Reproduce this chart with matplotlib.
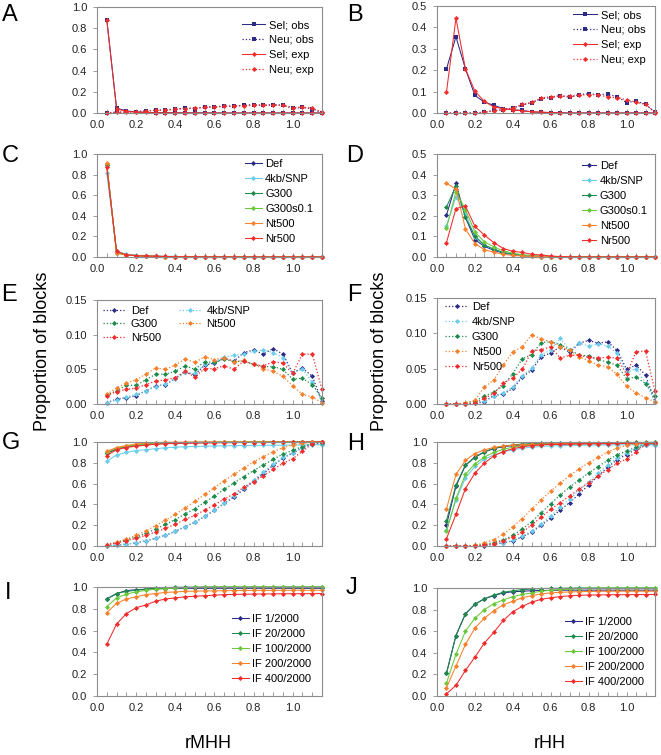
import numpy as np
import matplotlib
matplotlib.use('Agg')
import matplotlib.pyplot as plt

plt.rcParams['font.family'] = ['Liberation Sans', 'DejaVu Sans']

# bins of the distance statistic (shared by every panel)
rbin = [0.05, 0.1, 0.15, 0.2, 0.25, 0.3, 0.35, 0.4, 0.45, 0.5, 0.55, 0.6,
        0.65, 0.7, 0.75, 0.8, 0.85, 0.9, 0.95, 1.0, 1.05, 1.1, 1.15]

# A - rMHH, selected / neutral, observed / expected
a_sel_obs = [0.88, 0.045, 0.02, 0.01, 0.006, 0.004, 0.003, 0.002, 0.001, 0.001, 0.001, 0,
             0, 0, 0, 0, 0, 0, 0, 0, 0, 0, 0]
a_neu_obs = [0.002, 0.007, 0.009, 0.012, 0.019, 0.026, 0.028, 0.037, 0.046, 0.042, 0.056, 0.059,
             0.066, 0.062, 0.074, 0.078, 0.072, 0.080, 0.072, 0.045, 0.052, 0.040, 0.004]
a_sel_exp = [0.88, 0.04, 0.015, 0.008, 0.005, 0.003, 0.002, 0.001, 0.001, 0, 0, 0,
             0, 0, 0, 0, 0, 0, 0, 0, 0, 0, 0]
a_neu_exp = [0.003, 0.006, 0.010, 0.014, 0.020, 0.025, 0.030, 0.036, 0.042, 0.046, 0.052, 0.057,
             0.062, 0.066, 0.070, 0.073, 0.074, 0.075, 0.072, 0.050, 0.055, 0.045, 0.006]

# B - rHH
b_sel_obs = [0.206, 0.356, 0.206, 0.082, 0.051, 0.036, 0.020, 0.015, 0.012, 0.005, 0.003, 0.002,
             0.001, 0, 0, 0, 0, 0, 0, 0, 0, 0, 0]
b_neu_obs = [0, 0, 0, 0.001, 0.003, 0.012, 0.014, 0.022, 0.038, 0.048, 0.067, 0.072,
             0.081, 0.073, 0.086, 0.090, 0.086, 0.088, 0.076, 0.049, 0.055, 0.041, 0.003]
b_sel_exp = [0.098, 0.443, 0.206, 0.102, 0.054, 0.028, 0.020, 0.015, 0.010, 0.006, 0.004, 0.002,
             0.001, 0, 0, 0, 0, 0, 0, 0, 0, 0, 0]
b_neu_exp = [0, 0, 0, 0.001, 0.004, 0.010, 0.016, 0.024, 0.040, 0.050, 0.070, 0.076,
             0.080, 0.078, 0.083, 0.086, 0.085, 0.075, 0.072, 0.062, 0.050, 0.040, 0.004]

# C - rMHH, selected, scenarios
c_def = [0.890, 0.042, 0.022, 0.013, 0.009, 0.006, 0.004, 0.003, 0.002, 0.002, 0.001, 0.001,
         0.001, 0.001, 0, 0, 0, 0, 0, 0, 0, 0, 0]
c_4kb = [0.815, 0.060, 0.025, 0.018, 0.008, 0.010, 0.008, 0.006, 0.004, 0.003, 0.003, 0.002,
         0.002, 0.001, 0.001, 0.001, 0.001, 0.001, 0.001, 0.001, 0.001, 0.001, 0.001]
c_g300 = [0.895, 0.040, 0.022, 0.013, 0.010, 0.006, 0.004, 0.003, 0.002, 0.001, 0.001, 0.001,
          0.001, 0, 0, 0, 0, 0, 0, 0, 0, 0, 0]
c_g300s = [0.900, 0.040, 0.020, 0.012, 0.008, 0.006, 0.004, 0.003, 0.002, 0.001, 0.001, 0.001,
           0.001, 0, 0, 0, 0, 0, 0, 0, 0, 0, 0]
c_nt500 = [0.910, 0.037, 0.019, 0.014, 0.009, 0.005, 0.003, 0.001, 0.001, 0.001, 0, 0,
           0, 0, 0, 0, 0, 0, 0, 0, 0, 0, 0]
c_nr500 = [0.870, 0.055, 0.022, 0.013, 0.010, 0.008, 0.005, 0.003, 0.002, 0.002, 0.001, 0.001,
           0.001, 0, 0, 0, 0, 0, 0, 0, 0, 0, 0]

# D - rHH, selected, scenarios
d_def = [0.203, 0.357, 0.192, 0.084, 0.052, 0.032, 0.019, 0.012, 0.007, 0.004, 0.002, 0.001,
         0.001, 0, 0, 0, 0, 0, 0, 0, 0, 0, 0]
d_4kb = [0.151, 0.292, 0.211, 0.097, 0.058, 0.037, 0.022, 0.014, 0.008, 0.005, 0.003, 0.001,
         0, 0, 0, 0, 0, 0, 0, 0, 0, 0, 0]
d_g300 = [0.243, 0.344, 0.192, 0.102, 0.058, 0.038, 0.022, 0.013, 0.008, 0.004, 0.002, 0.001,
          0, 0, 0, 0, 0, 0, 0, 0, 0, 0, 0]
d_g300s = [0.141, 0.317, 0.230, 0.122, 0.073, 0.049, 0.030, 0.019, 0.011, 0.007, 0.004, 0.002,
           0.001, 0, 0, 0, 0, 0, 0, 0, 0, 0, 0]
d_nt500 = [0.357, 0.331, 0.136, 0.065, 0.036, 0.023, 0.013, 0.008, 0.005, 0.003, 0.002, 0.001,
           0, 0, 0, 0, 0, 0, 0, 0, 0, 0, 0]
d_nr500 = [0.070, 0.235, 0.247, 0.149, 0.106, 0.070, 0.041, 0.028, 0.022, 0.013, 0.010, 0.005,
           0.002, 0.001, 0, 0, 0, 0, 0, 0, 0, 0, 0]

# E - rMHH, neutral, scenarios
e_def = a_neu_obs
e_4kb = [0.001, 0.006, 0.010, 0.014, 0.019, 0.025, 0.029, 0.036, 0.046, 0.044, 0.057, 0.060,
         0.068, 0.070, 0.072, 0.076, 0.078, 0.074, 0.067, 0.045, 0.050, 0.032, 0.002]
e_g300 = [0.013, 0.019, 0.027, 0.027, 0.035, 0.043, 0.043, 0.047, 0.055, 0.050, 0.061, 0.060,
          0.065, 0.061, 0.062, 0.057, 0.054, 0.054, 0.050, 0.036, 0.037, 0.028, 0.009]
e_nt500 = [0.014, 0.023, 0.030, 0.035, 0.043, 0.052, 0.050, 0.056, 0.065, 0.060, 0.068, 0.064,
           0.067, 0.061, 0.063, 0.057, 0.051, 0.047, 0.040, 0.026, 0.014, 0.010, 0.002]
e_nr500 = [0.012, 0.018, 0.021, 0.023, 0.028, 0.033, 0.035, 0.038, 0.047, 0.039, 0.051, 0.051,
           0.055, 0.050, 0.062, 0.057, 0.055, 0.061, 0.059, 0.044, 0.072, 0.072, 0.021]

# F - rHH, neutral, scenarios
f_def = b_neu_obs
f_4kb = [0, 0, 0, 0.001, 0.004, 0.011, 0.016, 0.024, 0.040, 0.051, 0.070, 0.076,
         0.093, 0.076, 0.086, 0.082, 0.085, 0.082, 0.072, 0.045, 0.050, 0.030, 0.003]
f_g300 = [0, 0, 0.001, 0.004, 0.011, 0.017, 0.026, 0.043, 0.064, 0.070, 0.087, 0.088,
          0.084, 0.077, 0.069, 0.068, 0.063, 0.059, 0.055, 0.036, 0.038, 0.029, 0.011]
f_nt500 = [0, 0, 0.002, 0.005, 0.024, 0.034, 0.055, 0.074, 0.081, 0.098, 0.092, 0.088,
           0.081, 0.076, 0.067, 0.061, 0.055, 0.053, 0.042, 0.025, 0.016, 0.009, 0.003]
f_nr500 = [0, 0, 0, 0.001, 0.008, 0.015, 0.030, 0.037, 0.049, 0.075, 0.077, 0.081,
           0.065, 0.069, 0.069, 0.066, 0.065, 0.066, 0.065, 0.042, 0.074, 0.075, 0.018]

# G - cumulative rMHH (solid: selected, dotted: neutral)
g_def = [0.890, 0.932, 0.954, 0.967, 0.976, 0.982, 0.986, 0.989, 0.991, 0.993, 0.994, 0.995,
         0.996, 0.997, 0.997, 0.997, 0.998, 0.998, 0.998, 0.999, 0.999, 0.999, 1.0]
g_4kb = [0.815, 0.875, 0.900, 0.918, 0.926, 0.936, 0.944, 0.950, 0.954, 0.957, 0.960, 0.962,
         0.964, 0.965, 0.966, 0.967, 0.968, 0.969, 0.970, 0.971, 0.972, 0.973, 0.974]
g_g300 = [0.895, 0.935, 0.957, 0.970, 0.980, 0.986, 0.990, 0.993, 0.995, 0.996, 0.997, 0.998,
          0.999, 0.999, 0.999, 1.0, 1.0, 1.0, 1.0, 1.0, 1.0, 1.0, 1.0]
g_g300s = [0.900, 0.940, 0.960, 0.972, 0.980, 0.986, 0.990, 0.993, 0.995, 0.996, 0.997, 0.998,
           0.999, 0.999, 0.999, 1.0, 1.0, 1.0, 1.0, 1.0, 1.0, 1.0, 1.0]
g_nt500 = [0.910, 0.947, 0.966, 0.980, 0.989, 0.994, 0.997, 0.998, 0.999, 1.0, 1.0, 1.0,
           1.0, 1.0, 1.0, 1.0, 1.0, 1.0, 1.0, 1.0, 1.0, 1.0, 1.0]
g_nr500 = [0.870, 0.925, 0.947, 0.960, 0.970, 0.978, 0.983, 0.986, 0.988, 0.990, 0.991, 0.992,
           0.993, 0.994, 0.995, 0.995, 0.995, 0.996, 0.996, 0.997, 0.998, 0.999, 1.0]
g_def_n = [0.002, 0.009, 0.018, 0.030, 0.049, 0.075, 0.103, 0.140, 0.186, 0.228, 0.284, 0.343,
           0.409, 0.471, 0.545, 0.623, 0.695, 0.775, 0.847, 0.892, 0.944, 0.984, 0.988]
g_4kb_n = [0.001, 0.007, 0.017, 0.031, 0.050, 0.075, 0.104, 0.140, 0.186, 0.230, 0.287, 0.347,
           0.415, 0.485, 0.557, 0.633, 0.711, 0.785, 0.852, 0.897, 0.947, 0.979, 0.981]
g_g300_n = [0.013, 0.032, 0.059, 0.086, 0.121, 0.164, 0.207, 0.254, 0.309, 0.359, 0.420, 0.480,
            0.545, 0.606, 0.668, 0.725, 0.779, 0.833, 0.883, 0.919, 0.956, 0.984, 0.993]
g_nt500_n = [0.014, 0.037, 0.067, 0.102, 0.145, 0.197, 0.247, 0.303, 0.368, 0.428, 0.496, 0.560,
             0.627, 0.688, 0.751, 0.808, 0.859, 0.906, 0.946, 0.972, 0.986, 0.996, 0.998]
g_nr500_n = [0.012, 0.030, 0.051, 0.074, 0.102, 0.135, 0.170, 0.208, 0.255, 0.294, 0.345, 0.396,
             0.451, 0.501, 0.563, 0.620, 0.675, 0.736, 0.795, 0.839, 0.911, 0.983, 1.0]

# H - cumulative rHH
h_def = [0.203, 0.575, 0.775, 0.857, 0.905, 0.937, 0.955, 0.965, 0.972, 0.976, 0.978, 0.980,
         0.981, 0.982, 0.983, 0.983, 0.984, 0.984, 0.985, 0.985, 0.985, 0.986, 0.986]
h_4kb = [0.151, 0.443, 0.655, 0.765, 0.835, 0.875, 0.905, 0.925, 0.940, 0.950, 0.957, 0.962,
         0.965, 0.967, 0.969, 0.970, 0.971, 0.972, 0.973, 0.973, 0.974, 0.974, 0.975]
h_g300 = [0.243, 0.587, 0.779, 0.850, 0.905, 0.940, 0.960, 0.972, 0.980, 0.985, 0.988, 0.990,
          0.991, 0.992, 0.993, 0.994, 0.994, 0.995, 0.995, 0.996, 0.996, 0.996, 0.997]
h_g300s = [0.141, 0.458, 0.688, 0.790, 0.855, 0.900, 0.930, 0.950, 0.962, 0.970, 0.975, 0.978,
           0.980, 0.982, 0.983, 0.984, 0.985, 0.986, 0.987, 0.988, 0.989, 0.989, 0.990]
h_nt500 = [0.357, 0.688, 0.824, 0.889, 0.925, 0.948, 0.961, 0.969, 0.974, 0.977, 0.980, 0.982,
           0.984, 0.986, 0.987, 0.988, 0.989, 0.990, 0.991, 0.992, 0.993, 0.994, 0.995]
h_nr500 = [0.070, 0.305, 0.552, 0.701, 0.797, 0.867, 0.908, 0.936, 0.953, 0.966, 0.972, 0.976,
           0.978, 0.980, 0.982, 0.983, 0.984, 0.985, 0.986, 0.987, 0.988, 0.989, 0.990]
h_def_n = [0, 0, 0, 0.001, 0.004, 0.016, 0.029, 0.050, 0.087, 0.134, 0.199, 0.269,
           0.347, 0.418, 0.501, 0.588, 0.672, 0.757, 0.831, 0.879, 0.932, 0.972, 0.975]
h_4kb_n = [0, 0, 0, 0.001, 0.005, 0.016, 0.031, 0.055, 0.094, 0.144, 0.212, 0.287,
           0.378, 0.452, 0.536, 0.616, 0.699, 0.779, 0.850, 0.894, 0.943, 0.972, 0.975]
h_g300_n = [0, 0, 0.001, 0.005, 0.016, 0.033, 0.058, 0.101, 0.164, 0.234, 0.320, 0.407,
            0.490, 0.566, 0.635, 0.702, 0.764, 0.823, 0.877, 0.913, 0.950, 0.979, 0.990]
h_nt500_n = [0, 0, 0.002, 0.007, 0.030, 0.062, 0.115, 0.185, 0.263, 0.356, 0.444, 0.528,
             0.605, 0.678, 0.742, 0.800, 0.853, 0.903, 0.944, 0.967, 0.983, 0.991, 0.994]
h_nr500_n = [0, 0, 0, 0.001, 0.009, 0.023, 0.051, 0.086, 0.133, 0.204, 0.277, 0.354,
             0.416, 0.482, 0.547, 0.610, 0.672, 0.734, 0.796, 0.836, 0.906, 0.978, 0.995]

# I / J - cumulative, inbreeding scenarios
i_if1 = [0.890, 0.940, 0.967, 0.975, 0.980, 0.984, 0.986, 0.987, 0.988, 0.988, 0.988, 0.988,
         0.988, 0.988, 0.988, 0.988, 0.988, 0.988, 0.988, 0.988, 0.988, 0.988, 0.988]
i_if20 = [0.890, 0.940, 0.960, 0.970, 0.980, 0.990, 0.995, 0.997, 0.998, 0.999, 1.0, 1.0,
          1.0, 1.0, 1.0, 1.0, 1.0, 1.0, 1.0, 1.0, 1.0, 1.0, 1.0]
i_if100 = [0.820, 0.900, 0.935, 0.955, 0.970, 0.980, 0.985, 0.990, 0.995, 0.997, 0.998, 0.999,
           1.0, 1.0, 1.0, 1.0, 1.0, 1.0, 1.0, 1.0, 1.0, 1.0, 1.0]
i_if200 = [0.765, 0.850, 0.890, 0.910, 0.930, 0.940, 0.950, 0.955, 0.960, 0.962, 0.964, 0.965,
           0.966, 0.967, 0.968, 0.968, 0.969, 0.969, 0.969, 0.970, 0.970, 0.970, 0.970]
i_if400 = [0.475, 0.660, 0.755, 0.810, 0.835, 0.870, 0.890, 0.900, 0.910, 0.915, 0.920, 0.925,
           0.930, 0.932, 0.934, 0.935, 0.936, 0.937, 0.938, 0.938, 0.939, 0.939, 0.940]
j_if1 = [0.210, 0.560, 0.760, 0.850, 0.900, 0.930, 0.955, 0.965, 0.970, 0.975, 0.977, 0.978,
         0.979, 0.980, 0.980, 0.980, 0.980, 0.980, 0.980, 0.980, 0.980, 0.980, 0.980]
j_if20 = [0.210, 0.560, 0.760, 0.850, 0.900, 0.935, 0.960, 0.975, 0.985, 0.990, 0.995, 0.997,
          0.998, 0.999, 1.0, 1.0, 1.0, 1.0, 1.0, 1.0, 1.0, 1.0, 1.0]
j_if100 = [0.120, 0.385, 0.600, 0.720, 0.800, 0.855, 0.890, 0.920, 0.940, 0.955, 0.970, 0.980,
           0.985, 0.990, 0.995, 0.997, 0.998, 0.999, 1.0, 1.0, 1.0, 1.0, 1.0]
j_if200 = [0.077, 0.277, 0.477, 0.630, 0.720, 0.790, 0.845, 0.877, 0.910, 0.930, 0.945, 0.955,
           0.960, 0.964, 0.966, 0.968, 0.969, 0.970, 0.970, 0.970, 0.970, 0.970, 0.970]
j_if400 = [0.020, 0.098, 0.237, 0.360, 0.490, 0.590, 0.700, 0.780, 0.830, 0.870, 0.895, 0.910,
           0.920, 0.928, 0.932, 0.935, 0.936, 0.937, 0.938, 0.938, 0.939, 0.939, 0.940]

scen_names = ['Def', '4kb/SNP', 'G300', 'G300s0.1', 'Nt500', 'Nr500']
if_names = ['IF 1/2000', 'IF 20/2000', 'IF 100/2000', 'IF 200/2000', 'IF 400/2000']

navy = '#2B2B86'
lblue = '#6ACDEB'
dgreen = '#1E8A4C'
lgreen = '#6BC83A'
orange = '#F7802C'
red = '#F22B2B'
scen_cols = {'Def': navy, '4kb/SNP': lblue, 'G300': dgreen, 'G300s0.1': lgreen,
             'Nt500': orange, 'Nr500': red}
if_cols = [navy, dgreen, lgreen, orange, red]

W, H = 661, 755
fig = plt.figure(figsize=(W / 100, H / 100), dpi=100)


def make_ax(l, t, r, b, ymax, ystep, fmt):
    ax = fig.add_axes([l / W, 1 - b / H, (r - l) / W, (b - t) / H])
    ax.set_xlim(0, 1.15)
    ax.set_ylim(0, ymax)
    ax.set_xticks([0, 0.2, 0.4, 0.6, 0.8, 1.0])
    ax.set_xticklabels(['0.0', '0.2', '0.4', '0.6', '0.8', '1.0'])
    ax.set_xticks([0.05 * k for k in range(24)], minor=True)
    yt = np.arange(0, ymax + 1e-9, ystep)
    ax.set_yticks(yt)
    ax.set_yticklabels([fmt % v for v in yt])
    for s in ax.spines.values():
        s.set_color('#8c8c8c')
        s.set_linewidth(0.8)
    ax.tick_params(axis='x', which='both', direction='in', length=3, width=0.6,
                   color='#8c8c8c', labelsize=8, pad=5, labelcolor='#222222')
    ax.tick_params(axis='y', direction='out', length=3, width=0.6,
                   color='#8c8c8c', labelsize=8, pad=4, labelcolor='#222222')
    return ax


def leg(ax, x, y, handlelength=2.0, **kw):
    return ax.legend(loc='upper left', bbox_to_anchor=(x / W, 1 - y / H),
                     bbox_transform=fig.transFigure, frameon=False, fontsize=8,
                     borderpad=0, borderaxespad=0, handlelength=handlelength,
                     handletextpad=0.3, labelspacing=0.45, **kw)


def panel_letter(x, y, s):
    fig.text(x / W, 1 - y / H, s, fontsize=17, ha='center', va='center')


ms = 2.6
lw = 0.75
dlw = 0.9
mk = dict(marker='D', ms=ms, mew=0, clip_on=False)
sq = dict(marker='s', ms=3.0, mew=0, clip_on=False)

# ---- A ----
ax = make_ax(97, 7, 322, 113, 1.0, 0.2, '%.1f')
ax.plot(rbin, a_sel_obs, '-', color=navy, lw=lw, label='Sel; obs', **sq)
ax.plot(rbin, a_neu_obs, ':', color=navy, lw=dlw, label='Neu; obs', **sq)
ax.plot(rbin, a_sel_exp, '-', color=red, lw=lw, label='Sel; exp', **mk)
ax.plot(rbin, a_neu_exp, ':', color=red, lw=dlw, label='Neu; exp', **mk)
leg(ax, 242, 20, handlelength=2.1)

# ---- B ----
ax = make_ax(437, 6, 655, 113, 0.5, 0.1, '%.1f')
ax.plot(rbin, b_sel_obs, '-', color=navy, lw=lw, label='Sel; obs', **sq)
ax.plot(rbin, b_neu_obs, ':', color=navy, lw=dlw, label='Neu; obs', **sq)
ax.plot(rbin, b_sel_exp, '-', color=red, lw=lw, label='Sel; exp', **mk)
ax.plot(rbin, b_neu_exp, ':', color=red, lw=dlw, label='Neu; exp', **mk)
leg(ax, 573, 10, handlelength=2.2)

# ---- C, D ----
c_series = [c_def, c_4kb, c_g300, c_g300s, c_nt500, c_nr500]
d_series = [d_def, d_4kb, d_g300, d_g300s, d_nt500, d_nr500]
ax = make_ax(97, 154, 322, 257, 1.0, 0.2, '%.1f')
for name, vals in zip(scen_names, c_series):
    ax.plot(rbin, vals, '-', color=scen_cols[name], lw=lw, label=name, **mk)
leg(ax, 245, 159, handlelength=1.5)
ax = make_ax(437, 154, 655, 257, 0.5, 0.1, '%.1f')
for name, vals in zip(scen_names, d_series):
    ax.plot(rbin, vals, '-', color=scen_cols[name], lw=lw, label=name, **mk)
leg(ax, 582, 161, handlelength=1.3)

# ---- E, F ----
neu_names = ['Def', '4kb/SNP', 'G300', 'Nt500', 'Nr500']
e_series = [e_def, e_4kb, e_g300, e_nt500, e_nr500]
f_series = [f_def, f_4kb, f_g300, f_nt500, f_nr500]
ax = make_ax(97, 300, 322, 404, 0.15, 0.05, '%.2f')
lines = {}
for name, vals in zip(neu_names, e_series):
    lines[name], = ax.plot(rbin, vals, ':', color=scen_cols[name], lw=dlw, label=name, **mk)
order = ['Def', 'G300', 'Nr500', '4kb/SNP', 'Nt500']
ax.legend([lines[n] for n in order], order, loc='upper left',
          bbox_to_anchor=(103 / W, 1 - 306 / H), bbox_transform=fig.transFigure,
          frameon=False, fontsize=8, borderpad=0, borderaxespad=0, ncol=2,
          handlelength=2.0, handletextpad=0.5, labelspacing=0.3, columnspacing=1.6)
ax = make_ax(437, 298, 655, 404, 0.15, 0.05, '%.2f')
for name, vals in zip(neu_names, f_series):
    ax.plot(rbin, vals, ':', color=scen_cols[name], lw=dlw, label=name, **mk)
leg(ax, 445, 302, handlelength=2.1)

# ---- G, H ----
g_sel = [g_def, g_4kb, g_g300, g_g300s, g_nt500, g_nr500]
g_neu = [g_def_n, g_4kb_n, g_g300_n, g_nt500_n, g_nr500_n]
h_sel = [h_def, h_4kb, h_g300, h_g300s, h_nt500, h_nr500]
h_neu = [h_def_n, h_4kb_n, h_g300_n, h_nt500_n, h_nr500_n]
for (l, t, r, b), sel, neu in [((97, 442, 322, 546), g_sel, g_neu),
                               ((437, 442, 655, 546), h_sel, h_neu)]:
    ax = make_ax(l, t, r, b, 1.0, 0.2, '%.1f')
    for name, vals in zip(scen_names, sel):
        ax.plot(rbin, vals, '-', color=scen_cols[name], lw=lw, **mk)
    for name, vals in zip(neu_names, neu):
        ax.plot(rbin, vals, ':', color=scen_cols[name], lw=dlw, **mk)

# ---- I, J ----
for (l, t, r, b), series, lx, ly in [((97, 587, 322, 696), [i_if1, i_if20, i_if100, i_if200, i_if400], 232, 614),
                                     ((437, 588, 655, 696), [j_if1, j_if20, j_if100, j_if200, j_if400], 565, 617)]:
    ax = make_ax(l, t, r, b, 1.0, 0.2, '%.1f')
    for name, col, vals in zip(if_names, if_cols, series):
        ax.plot(rbin, vals, '-', color=col, lw=lw, label=name, **mk)
    leg(ax, lx, ly, handlelength=1.5)

# panel letters and shared labels
for s, x, y in [('A', 10, 15), ('B', 355, 15), ('C', 10, 156), ('D', 355, 156),
                ('E', 9, 295), ('F', 354, 295), ('G', 11, 443), ('H', 356, 444),
                ('I', 8, 593), ('J', 352, 588)]:
    panel_letter(x, y, s)

fig.text(43 / W, 1 - 351 / H, 'Proportion of blocks', rotation=90, fontsize=13,
         ha='center', va='center')
fig.text(380 / W, 1 - 351 / H, 'Proportion of blocks', rotation=90, fontsize=13,
         ha='center', va='center')
fig.text(208 / W, 1 - 743 / H, 'rMHH', fontsize=13, ha='center', va='center')
fig.text(550 / W, 1 - 743 / H, 'rHH', fontsize=13, ha='center', va='center')

fig.savefig('out.png', dpi=100)
